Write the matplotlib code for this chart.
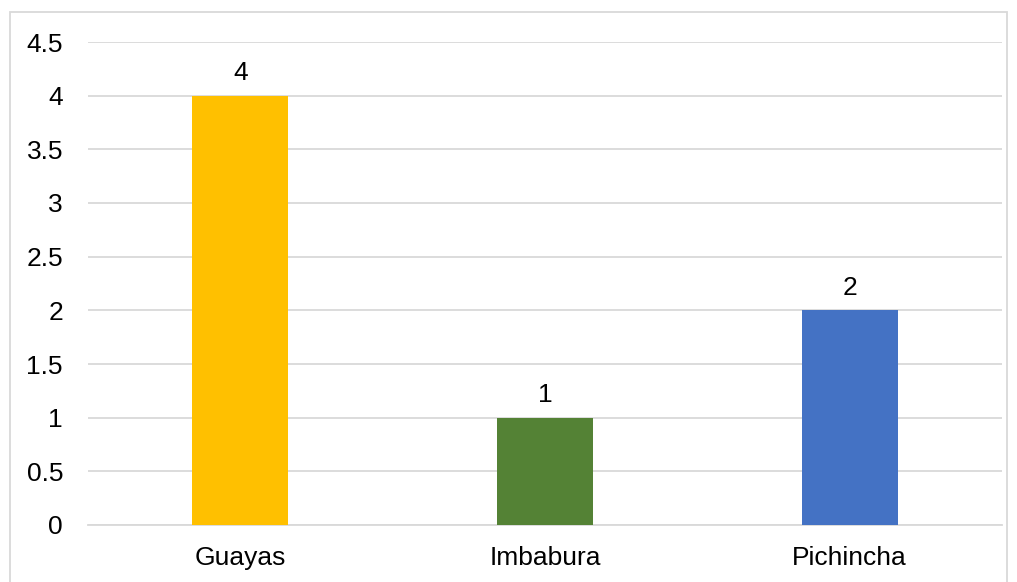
import matplotlib
matplotlib.use("Agg")
import matplotlib.pyplot as plt
from matplotlib.patches import Rectangle

provincias = ["Guayas", "Imbabura", "Pichincha"]
valores = [4, 1, 2]
colores = ["#FFC000", "#548235", "#4472C4"]
yticks = [0, 0.5, 1, 1.5, 2, 2.5, 3, 3.5, 4, 4.5]

plt.rcParams["font.family"] = ["Liberation Sans", "DejaVu Sans"]

fig = plt.figure(figsize=(10.17, 5.82), dpi=100)
ax = fig.add_axes([88 / 1017, 1 - 525 / 582, (1002 - 88) / 1017, (525 - 42) / 582])

x = range(len(provincias))
bars = ax.bar(x, valores, width=0.315, color=colores, zorder=3)
for b, v in zip(bars, valores):
    ax.text(b.get_x() + b.get_width() / 2, v + 0.1, str(v),
            ha="center", va="bottom", fontsize=19, color="#000000")

ax.set_xlim(-0.5, 2.5)
ax.set_ylim(0, 4.5)
ax.set_yticks(yticks)
ax.set_yticklabels([f"{t:g}" for t in yticks])
ax.set_xticks(list(x))
ax.set_xticklabels(provincias)
ax.tick_params(axis="both", length=0, labelsize=19, colors="#000000")
ax.tick_params(axis="y", pad=18)
ax.tick_params(axis="x", pad=15)
ax.grid(axis="y", color="#D9D9D9", linewidth=1.3, zorder=0)
for s in ["top", "right", "left"]:
    ax.spines[s].set_visible(False)
ax.spines["bottom"].set_color("#D9D9D9")
ax.spines["bottom"].set_linewidth(1.3)

# borde del area del grafico
fig.patches.append(Rectangle((10 / 1017, -0.01), 997 / 1017, 1 - 12 / 582 + 0.01,
                             transform=fig.transFigure, fill=False,
                             edgecolor="#D9D9D9", linewidth=1.3))

fig.savefig("out.png", dpi=100)
